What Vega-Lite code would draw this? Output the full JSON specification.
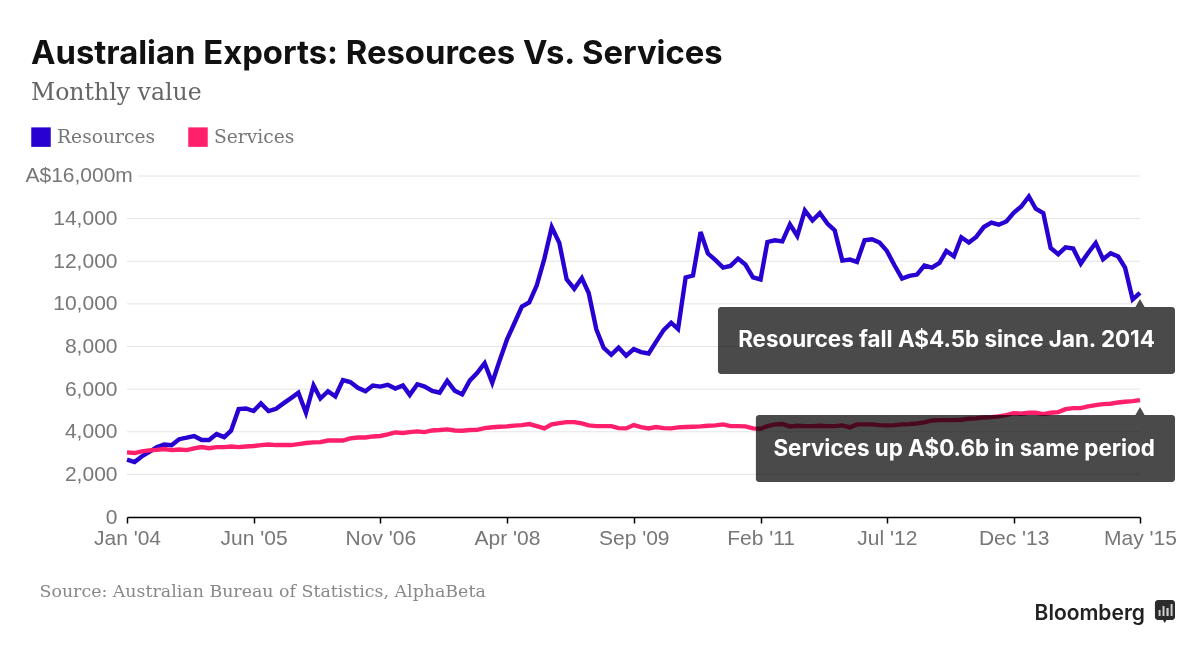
{"$schema":"https://vega.github.io/schema/vega-lite/v6.json","width":1013,"height":341,"autosize":"none","padding":{"left":127,"top":176,"right":60,"bottom":132},"background":"white",
"title":{"text":"Australian Exports: Resources Vs. Services","subtitle":"Monthly value","anchor":"start","frame":"group","dx":-96,"offset":22,"font":"Inter","fontSize":32.8,"fontWeight":700,"color":"#111111","subtitleFont":"DejaVu Serif","subtitleFontSize":23.6,"subtitleColor":"#666666","subtitlePadding":11},
"config":{"view":{"stroke":null}},
"datasets":{"grid":[{"v":16000,"a":"2004-02-15","b":"2015-05-01"},{"v":14000,"a":"2004-01-01","b":"2015-05-01"},{"v":12000,"a":"2004-01-01","b":"2015-05-01"},{"v":10000,"a":"2004-01-01","b":"2015-05-01"},{"v":8000,"a":"2004-01-01","b":"2015-05-01"},{"v":6000,"a":"2004-01-01","b":"2015-05-01"},{"v":4000,"a":"2004-01-01","b":"2015-05-01"},{"v":2000,"a":"2004-01-01","b":"2015-05-01"}],
"notes":[{"a":"2010-08-11","b":"2015-09-21","lo":6710,"hi":9853,"t":"2015-05-01","tv":10040,"r":"2015-07-01","m":8282,"label":"Resources fall A$4.5b since Jan. 2014"},{"a":"2011-01-13","b":"2015-09-21","lo":1642,"hi":4786,"t":"2015-05-01","tv":4970,"r":"2015-07-01","m":3214,"label":"Services up A$0.6b in same period"}],
"exports":[
{"month":"2004-01-01","series":"Resources","value":2690},{"month":"2004-02-01","series":"Resources","value":2580},{"month":"2004-03-01","series":"Resources","value":2840},{"month":"2004-04-01","series":"Resources","value":3050},{"month":"2004-05-01","series":"Resources","value":3270},{"month":"2004-06-01","series":"Resources","value":3400},{"month":"2004-07-01","series":"Resources","value":3370},{"month":"2004-08-01","series":"Resources","value":3650},{"month":"2004-09-01","series":"Resources","value":3720},{"month":"2004-10-01","series":"Resources","value":3800},{"month":"2004-11-01","series":"Resources","value":3610},{"month":"2004-12-01","series":"Resources","value":3610},
{"month":"2005-01-01","series":"Resources","value":3890},{"month":"2005-02-01","series":"Resources","value":3750},{"month":"2005-03-01","series":"Resources","value":4050},{"month":"2005-04-01","series":"Resources","value":5060},{"month":"2005-05-01","series":"Resources","value":5090},{"month":"2005-06-01","series":"Resources","value":4970},{"month":"2005-07-01","series":"Resources","value":5330},{"month":"2005-08-01","series":"Resources","value":4970},{"month":"2005-09-01","series":"Resources","value":5080},{"month":"2005-10-01","series":"Resources","value":5330},{"month":"2005-11-01","series":"Resources","value":5580},{"month":"2005-12-01","series":"Resources","value":5830},
{"month":"2006-01-01","series":"Resources","value":4890},{"month":"2006-02-01","series":"Resources","value":6170},{"month":"2006-03-01","series":"Resources","value":5560},{"month":"2006-04-01","series":"Resources","value":5900},{"month":"2006-05-01","series":"Resources","value":5660},{"month":"2006-06-01","series":"Resources","value":6420},{"month":"2006-07-01","series":"Resources","value":6330},{"month":"2006-08-01","series":"Resources","value":6060},{"month":"2006-09-01","series":"Resources","value":5900},{"month":"2006-10-01","series":"Resources","value":6170},{"month":"2006-11-01","series":"Resources","value":6120},{"month":"2006-12-01","series":"Resources","value":6200},
{"month":"2007-01-01","series":"Resources","value":6030},{"month":"2007-02-01","series":"Resources","value":6170},{"month":"2007-03-01","series":"Resources","value":5730},{"month":"2007-04-01","series":"Resources","value":6230},{"month":"2007-05-01","series":"Resources","value":6120},{"month":"2007-06-01","series":"Resources","value":5920},{"month":"2007-07-01","series":"Resources","value":5830},{"month":"2007-08-01","series":"Resources","value":6390},{"month":"2007-09-01","series":"Resources","value":5920},{"month":"2007-10-01","series":"Resources","value":5750},{"month":"2007-11-01","series":"Resources","value":6400},{"month":"2007-12-01","series":"Resources","value":6750},
{"month":"2008-01-01","series":"Resources","value":7220},{"month":"2008-02-01","series":"Resources","value":6300},{"month":"2008-03-01","series":"Resources","value":7300},{"month":"2008-04-01","series":"Resources","value":8320},{"month":"2008-05-01","series":"Resources","value":9080},{"month":"2008-06-01","series":"Resources","value":9870},{"month":"2008-07-01","series":"Resources","value":10070},{"month":"2008-08-01","series":"Resources","value":10870},{"month":"2008-09-01","series":"Resources","value":12125},{"month":"2008-10-01","series":"Resources","value":13600},{"month":"2008-11-01","series":"Resources","value":12860},{"month":"2008-12-01","series":"Resources","value":11150},
{"month":"2009-01-01","series":"Resources","value":10710},{"month":"2009-02-01","series":"Resources","value":11210},{"month":"2009-03-01","series":"Resources","value":10510},{"month":"2009-04-01","series":"Resources","value":8810},{"month":"2009-05-01","series":"Resources","value":7940},{"month":"2009-06-01","series":"Resources","value":7610},{"month":"2009-07-01","series":"Resources","value":7950},{"month":"2009-08-01","series":"Resources","value":7565},{"month":"2009-09-01","series":"Resources","value":7875},{"month":"2009-10-01","series":"Resources","value":7735},{"month":"2009-11-01","series":"Resources","value":7670},{"month":"2009-12-01","series":"Resources","value":8220},
{"month":"2010-01-01","series":"Resources","value":8770},{"month":"2010-02-01","series":"Resources","value":9115},{"month":"2010-03-01","series":"Resources","value":8820},{"month":"2010-04-01","series":"Resources","value":11240},{"month":"2010-05-01","series":"Resources","value":11330},{"month":"2010-06-01","series":"Resources","value":13370},{"month":"2010-07-01","series":"Resources","value":12360},{"month":"2010-08-01","series":"Resources","value":12050},{"month":"2010-09-01","series":"Resources","value":11700},{"month":"2010-10-01","series":"Resources","value":11780},{"month":"2010-11-01","series":"Resources","value":12125},{"month":"2010-12-01","series":"Resources","value":11845},
{"month":"2011-01-01","series":"Resources","value":11240},{"month":"2011-02-01","series":"Resources","value":11145},{"month":"2011-03-01","series":"Resources","value":12905},{"month":"2011-04-01","series":"Resources","value":12985},{"month":"2011-05-01","series":"Resources","value":12935},{"month":"2011-06-01","series":"Resources","value":13730},{"month":"2011-07-01","series":"Resources","value":13185},{"month":"2011-08-01","series":"Resources","value":14385},{"month":"2011-09-01","series":"Resources","value":13915},{"month":"2011-10-01","series":"Resources","value":14260},{"month":"2011-11-01","series":"Resources","value":13765},{"month":"2011-12-01","series":"Resources","value":13450},
{"month":"2012-01-01","series":"Resources","value":12030},{"month":"2012-02-01","series":"Resources","value":12080},{"month":"2012-03-01","series":"Resources","value":11970},{"month":"2012-04-01","series":"Resources","value":12985},{"month":"2012-05-01","series":"Resources","value":13030},{"month":"2012-06-01","series":"Resources","value":12880},{"month":"2012-07-01","series":"Resources","value":12485},{"month":"2012-08-01","series":"Resources","value":11810},{"month":"2012-09-01","series":"Resources","value":11190},{"month":"2012-10-01","series":"Resources","value":11315},{"month":"2012-11-01","series":"Resources","value":11375},{"month":"2012-12-01","series":"Resources","value":11800},
{"month":"2013-01-01","series":"Resources","value":11700},{"month":"2013-02-01","series":"Resources","value":11920},{"month":"2013-03-01","series":"Resources","value":12485},{"month":"2013-04-01","series":"Resources","value":12235},{"month":"2013-05-01","series":"Resources","value":13125},{"month":"2013-06-01","series":"Resources","value":12880},{"month":"2013-07-01","series":"Resources","value":13140},{"month":"2013-08-01","series":"Resources","value":13605},{"month":"2013-09-01","series":"Resources","value":13810},{"month":"2013-10-01","series":"Resources","value":13715},{"month":"2013-11-01","series":"Resources","value":13870},{"month":"2013-12-01","series":"Resources","value":14275},
{"month":"2014-01-01","series":"Resources","value":14570},{"month":"2014-02-01","series":"Resources","value":15040},{"month":"2014-03-01","series":"Resources","value":14465},{"month":"2014-04-01","series":"Resources","value":14260},{"month":"2014-05-01","series":"Resources","value":12625},{"month":"2014-06-01","series":"Resources","value":12330},{"month":"2014-07-01","series":"Resources","value":12655},{"month":"2014-08-01","series":"Resources","value":12595},{"month":"2014-09-01","series":"Resources","value":11890},{"month":"2014-10-01","series":"Resources","value":12390},{"month":"2014-11-01","series":"Resources","value":12860},{"month":"2014-12-01","series":"Resources","value":12095},
{"month":"2015-01-01","series":"Resources","value":12375},{"month":"2015-02-01","series":"Resources","value":12220},{"month":"2015-03-01","series":"Resources","value":11700},{"month":"2015-04-01","series":"Resources","value":10210},{"month":"2015-05-01","series":"Resources","value":10520},
{"month":"2004-01-01","series":"Services","value":3030},{"month":"2004-02-01","series":"Services","value":3000},{"month":"2004-03-01","series":"Services","value":3080},{"month":"2004-04-01","series":"Services","value":3125},{"month":"2004-05-01","series":"Services","value":3150},{"month":"2004-06-01","series":"Services","value":3190},{"month":"2004-07-01","series":"Services","value":3140},{"month":"2004-08-01","series":"Services","value":3170},{"month":"2004-09-01","series":"Services","value":3140},{"month":"2004-10-01","series":"Services","value":3220},{"month":"2004-11-01","series":"Services","value":3280},{"month":"2004-12-01","series":"Services","value":3230},
{"month":"2005-01-01","series":"Services","value":3280},{"month":"2005-02-01","series":"Services","value":3280},{"month":"2005-03-01","series":"Services","value":3310},{"month":"2005-04-01","series":"Services","value":3280},{"month":"2005-05-01","series":"Services","value":3310},{"month":"2005-06-01","series":"Services","value":3330},{"month":"2005-07-01","series":"Services","value":3375},{"month":"2005-08-01","series":"Services","value":3400},{"month":"2005-09-01","series":"Services","value":3375},{"month":"2005-10-01","series":"Services","value":3375},{"month":"2005-11-01","series":"Services","value":3375},{"month":"2005-12-01","series":"Services","value":3420},
{"month":"2006-01-01","series":"Services","value":3470},{"month":"2006-02-01","series":"Services","value":3500},{"month":"2006-03-01","series":"Services","value":3515},{"month":"2006-04-01","series":"Services","value":3590},{"month":"2006-05-01","series":"Services","value":3590},{"month":"2006-06-01","series":"Services","value":3590},{"month":"2006-07-01","series":"Services","value":3690},{"month":"2006-08-01","series":"Services","value":3730},{"month":"2006-09-01","series":"Services","value":3730},{"month":"2006-10-01","series":"Services","value":3780},{"month":"2006-11-01","series":"Services","value":3800},{"month":"2006-12-01","series":"Services","value":3875},
{"month":"2007-01-01","series":"Services","value":3970},{"month":"2007-02-01","series":"Services","value":3940},{"month":"2007-03-01","series":"Services","value":3985},{"month":"2007-04-01","series":"Services","value":4015},{"month":"2007-05-01","series":"Services","value":3985},{"month":"2007-06-01","series":"Services","value":4060},{"month":"2007-07-01","series":"Services","value":4080},{"month":"2007-08-01","series":"Services","value":4110},{"month":"2007-09-01","series":"Services","value":4060},{"month":"2007-10-01","series":"Services","value":4050},{"month":"2007-11-01","series":"Services","value":4080},{"month":"2007-12-01","series":"Services","value":4090},
{"month":"2008-01-01","series":"Services","value":4170},{"month":"2008-02-01","series":"Services","value":4210},{"month":"2008-03-01","series":"Services","value":4235},{"month":"2008-04-01","series":"Services","value":4250},{"month":"2008-05-01","series":"Services","value":4290},{"month":"2008-06-01","series":"Services","value":4313},{"month":"2008-07-01","series":"Services","value":4360},{"month":"2008-08-01","series":"Services","value":4266},{"month":"2008-09-01","series":"Services","value":4157},{"month":"2008-10-01","series":"Services","value":4344},{"month":"2008-11-01","series":"Services","value":4406},{"month":"2008-12-01","series":"Services","value":4453},
{"month":"2009-01-01","series":"Services","value":4453},{"month":"2009-02-01","series":"Services","value":4390},{"month":"2009-03-01","series":"Services","value":4297},{"month":"2009-04-01","series":"Services","value":4266},{"month":"2009-05-01","series":"Services","value":4266},{"month":"2009-06-01","series":"Services","value":4266},{"month":"2009-07-01","series":"Services","value":4172},{"month":"2009-08-01","series":"Services","value":4157},{"month":"2009-09-01","series":"Services","value":4313},{"month":"2009-10-01","series":"Services","value":4220},{"month":"2009-11-01","series":"Services","value":4157},{"month":"2009-12-01","series":"Services","value":4220},
{"month":"2010-01-01","series":"Services","value":4172},{"month":"2010-02-01","series":"Services","value":4157},{"month":"2010-03-01","series":"Services","value":4204},{"month":"2010-04-01","series":"Services","value":4220},{"month":"2010-05-01","series":"Services","value":4235},{"month":"2010-06-01","series":"Services","value":4250},{"month":"2010-07-01","series":"Services","value":4282},{"month":"2010-08-01","series":"Services","value":4297},{"month":"2010-09-01","series":"Services","value":4344},{"month":"2010-10-01","series":"Services","value":4266},{"month":"2010-11-01","series":"Services","value":4266},{"month":"2010-12-01","series":"Services","value":4250},
{"month":"2011-01-01","series":"Services","value":4157},{"month":"2011-02-01","series":"Services","value":4141},{"month":"2011-03-01","series":"Services","value":4266},{"month":"2011-04-01","series":"Services","value":4344},{"month":"2011-05-01","series":"Services","value":4360},{"month":"2011-06-01","series":"Services","value":4250},{"month":"2011-07-01","series":"Services","value":4282},{"month":"2011-08-01","series":"Services","value":4266},{"month":"2011-09-01","series":"Services","value":4266},{"month":"2011-10-01","series":"Services","value":4282},{"month":"2011-11-01","series":"Services","value":4266},{"month":"2011-12-01","series":"Services","value":4266},
{"month":"2012-01-01","series":"Services","value":4297},{"month":"2012-02-01","series":"Services","value":4204},{"month":"2012-03-01","series":"Services","value":4344},{"month":"2012-04-01","series":"Services","value":4344},{"month":"2012-05-01","series":"Services","value":4344},{"month":"2012-06-01","series":"Services","value":4313},{"month":"2012-07-01","series":"Services","value":4297},{"month":"2012-08-01","series":"Services","value":4313},{"month":"2012-09-01","series":"Services","value":4344},{"month":"2012-10-01","series":"Services","value":4360},{"month":"2012-11-01","series":"Services","value":4390},{"month":"2012-12-01","series":"Services","value":4437},
{"month":"2013-01-01","series":"Services","value":4531},{"month":"2013-02-01","series":"Services","value":4547},{"month":"2013-03-01","series":"Services","value":4547},{"month":"2013-04-01","series":"Services","value":4547},{"month":"2013-05-01","series":"Services","value":4563},{"month":"2013-06-01","series":"Services","value":4610},{"month":"2013-07-01","series":"Services","value":4625},{"month":"2013-08-01","series":"Services","value":4672},{"month":"2013-09-01","series":"Services","value":4688},{"month":"2013-10-01","series":"Services","value":4719},{"month":"2013-11-01","series":"Services","value":4782},{"month":"2013-12-01","series":"Services","value":4875},
{"month":"2014-01-01","series":"Services","value":4844},{"month":"2014-02-01","series":"Services","value":4891},{"month":"2014-03-01","series":"Services","value":4891},{"month":"2014-04-01","series":"Services","value":4828},{"month":"2014-05-01","series":"Services","value":4891},{"month":"2014-06-01","series":"Services","value":4922},{"month":"2014-07-01","series":"Services","value":5063},{"month":"2014-08-01","series":"Services","value":5110},{"month":"2014-09-01","series":"Services","value":5110},{"month":"2014-10-01","series":"Services","value":5188},{"month":"2014-11-01","series":"Services","value":5250},{"month":"2014-12-01","series":"Services","value":5297},
{"month":"2015-01-01","series":"Services","value":5313},{"month":"2015-02-01","series":"Services","value":5375},{"month":"2015-03-01","series":"Services","value":5407},{"month":"2015-04-01","series":"Services","value":5438},{"month":"2015-05-01","series":"Services","value":5485}
]},
"data":{"name":"exports"},
"layer":[
{"data":{"name":"grid"},"mark":{"type":"rule","stroke":"#e4e4e4","strokeWidth":1},"encoding":{"x":{"field":"a","type":"temporal","scale":{"type":"utc","domain":[{"year":2004,"month":"jan","date":1,"utc":true},{"year":2015,"month":"may","date":1,"utc":true}]},"axis":{"title":"Source: Australian Bureau of Statistics, AlphaBeta","titleX":-88,"titleY":74,"titleAlign":"left","titleAnchor":"start","titleBaseline":"middle","titleFont":"DejaVu Serif","titleFontSize":17.4,"titleFontWeight":400,"titleColor":"#888888","grid":false,"domainColor":"#000000","domainWidth":1.5,"tickColor":"#000000","tickSize":6,"tickWidth":1.5,"labelFont":"Liberation Sans","labelFontSize":21,"labelColor":"#777777","labelPadding":4,"labelOverlap":false,"labelFlush":false,"format":"%b '%y","values":[{"year":2004,"month":"jan","date":1,"utc":true},{"year":2005,"month":"jun","date":1,"utc":true},{"year":2006,"month":"nov","date":1,"utc":true},{"year":2008,"month":"apr","date":1,"utc":true},{"year":2009,"month":"sep","date":1,"utc":true},{"year":2011,"month":"feb","date":1,"utc":true},{"year":2012,"month":"jul","date":1,"utc":true},{"year":2013,"month":"dec","date":1,"utc":true},{"year":2015,"month":"may","date":1,"utc":true}]}},"x2":{"field":"b"},"y":{"field":"v","type":"quantitative","scale":{"domain":[0,16000],"nice":false},"axis":{"title":null,"grid":false,"domain":false,"ticks":false,"labelFont":"Liberation Sans","labelFontSize":21,"labelColor":"#777777","labelPadding":10,"values":[0,2000,4000,6000,8000,10000,12000,14000]}}}},
{"data":{"values":[{"d":"2004-01-25","v":16000,"label":"A$16,000m"}]},"mark":{"type":"text","align":"right","baseline":"middle","color":"#777777","font":"Liberation Sans","fontSize":21},"encoding":{"x":{"field":"d","type":"temporal"},"y":{"field":"v","type":"quantitative"},"text":{"field":"label"}}},
{"mark":{"type":"line","strokeWidth":4.4,"strokeJoin":"miter","strokeCap":"butt","interpolate":"linear"},"encoding":{"x":{"field":"month","type":"temporal"},"y":{"field":"value","type":"quantitative"},"color":{"field":"series","type":"nominal","scale":{"domain":["Resources","Services"],"range":["#2800d2","#ff1f6a"]},"legend":{"title":null,"orient":"none","legendX":-96,"legendY":-49,"direction":"horizontal","symbolType":"square","symbolSize":380,"symbolStrokeWidth":0,"labelFont":"DejaVu Serif","labelFontSize":18.7,"labelColor":"#777777","labelOffset":6,"columnPadding":32,"encode":{"symbols":{"update":{"fill":{"scale":"color","field":"value"},"shape":{"value":"square"},"strokeWidth":{"value":0},"opacity":{"value":1}}}}}}}},
{"data":{"name":"notes"},"mark":{"type":"rect","fill":"#4a4a4a","cornerRadius":3,"blend":"multiply"},"encoding":{"x":{"field":"a","type":"temporal"},"x2":{"field":"b"},"y":{"field":"lo","type":"quantitative"},"y2":{"field":"hi"}}},
{"data":{"name":"notes"},"mark":{"type":"point","shape":"triangle-up","filled":true,"fill":"#4a4a4a","opacity":1,"size":90},"encoding":{"x":{"field":"t","type":"temporal"},"y":{"field":"tv","type":"quantitative"}}},
{"data":{"name":"notes"},"mark":{"type":"text","align":"right","baseline":"middle","color":"#ffffff","font":"Inter","fontWeight":700,"fontSize":22.4},"encoding":{"x":{"field":"r","type":"temporal"},"y":{"field":"m","type":"quantitative"},"text":{"field":"label"}}},
{"data":{"values":[{"d":"2015-05-21","v":-4550,"label":"Bloomberg"}]},"mark":{"type":"text","align":"right","baseline":"middle","color":"#222222","font":"Inter","fontWeight":600,"fontSize":21},"encoding":{"x":{"field":"d","type":"temporal"},"y":{"field":"v","type":"quantitative"},"text":{"field":"label"}}},
{"data":{"values":[{"a":"2015-07-01","b":"2015-09-21","lo":-4833,"hi":-3894}]},"mark":{"type":"rect","fill":"#2b2b2b","cornerRadius":3},"encoding":{"x":{"field":"a","type":"temporal"},"x2":{"field":"b"},"y":{"field":"lo","type":"quantitative"},"y2":{"field":"hi"}}},
{"data":{"values":[{"d":"2015-08-10","v":-4860}]},"mark":{"type":"point","shape":"triangle-down","filled":true,"fill":"#2b2b2b","opacity":1,"size":30},"encoding":{"x":{"field":"d","type":"temporal"},"y":{"field":"v","type":"quantitative"}}},
{"data":{"values":[{"a":"2015-07-16","b":"2015-07-24","lo":-4645,"hi":-4364},{"a":"2015-08-01","b":"2015-08-09","lo":-4645,"hi":-4176},{"a":"2015-08-17","b":"2015-08-26","lo":-4645,"hi":-4270},{"a":"2015-09-03","b":"2015-09-11","lo":-4645,"hi":-4082}]},"mark":{"type":"rect","fill":"#cfcfcf"},"encoding":{"x":{"field":"a","type":"temporal"},"x2":{"field":"b"},"y":{"field":"lo","type":"quantitative"},"y2":{"field":"hi"}}}
]}
